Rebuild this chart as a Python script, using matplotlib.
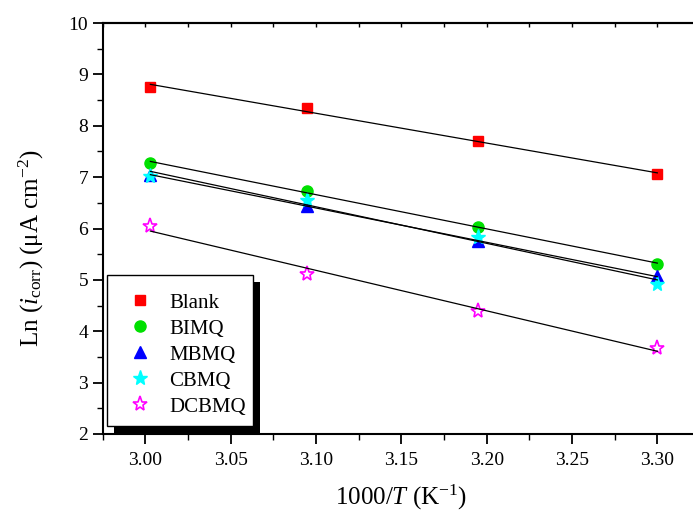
import numpy as np
import matplotlib
matplotlib.use("Agg")
import matplotlib.pyplot as plt
from matplotlib.patches import Rectangle
from matplotlib.ticker import MultipleLocator, FormatStrFormatter

plt.rcParams['font.family'] = ['Liberation Serif', 'DejaVu Serif']
plt.rcParams['mathtext.fontset'] = 'custom'
plt.rcParams['mathtext.rm'] = 'Liberation Serif'
plt.rcParams['mathtext.it'] = 'Liberation Serif:italic'
plt.rcParams['mathtext.bf'] = 'Liberation Serif:bold'

# data
x_inv_T = [3.003, 3.095, 3.195, 3.300]
series_names = ['Blank', 'BIMQ', 'MBMQ', 'CBMQ', 'DCBMQ']
blank = [8.757, 8.342, 7.694, 7.060]
bimq = [7.278, 6.734, 6.022, 5.316]
mbmq = [7.050, 6.437, 5.750, 5.070]
cbmq = [7.020, 6.547, 5.834, 4.915]
dcbmq = [6.040, 5.115, 4.396, 3.671]
series_values = [blank, bimq, mbmq, cbmq, dcbmq]

colors = ['#ff0000', '#00e000', '#0000ff', '#00ffff', '#ff00ff']
markers = ['s', 'o', '^', '*', '*']
msizes = [7, 8, 8, 11, 11]

W, H = 693, 511
fig = plt.figure(figsize=(W / 100, H / 100), dpi=100)
ax_l, ax_r, ax_t, ax_b = 102.6, 700.0, 23.0, 434.0
ax = fig.add_axes([ax_l / W, 1 - ax_b / H, (ax_r - ax_l) / W, (ax_b - ax_t) / H])


def fx(px):
    return (px - ax_l) / (ax_r - ax_l)


def fy(py):
    return (ax_b - py) / (ax_b - ax_t)


x = np.array(x_inv_T)
handles = []
for name, vals, c, m, ms in zip(series_names, series_values, colors, markers, msizes):
    y = np.array(vals)
    k, b = np.polyfit(x, y, 1)
    ax.plot(x[[0, -1]], k * x[[0, -1]] + b, color='black', lw=0.9, zorder=3)
    if name == 'DCBMQ':
        h, = ax.plot(x, y, linestyle='none', marker=m, markersize=ms,
                     markerfacecolor='none', markeredgecolor=c, markeredgewidth=1.2,
                     label=name, zorder=2)
    else:
        h, = ax.plot(x, y, linestyle='none', marker=m, markersize=ms,
                     color=c, markeredgecolor=c, label=name, zorder=2)
    handles.append(h)

ax.set_xlim(2.975, 3.325)
ax.set_ylim(2, 10)
ax.xaxis.set_major_locator(MultipleLocator(0.05))
ax.xaxis.set_minor_locator(MultipleLocator(0.025))
ax.yaxis.set_major_locator(MultipleLocator(1))
ax.yaxis.set_minor_locator(MultipleLocator(0.5))
ax.xaxis.set_major_formatter(FormatStrFormatter('%.2f'))

for s in ax.spines.values():
    s.set_linewidth(1.5)
ax.spines['right'].set_visible(False)
ax.tick_params(which='major', direction='out', length=7, width=1.3, labelsize=14)
ax.tick_params(axis='x', which='major', pad=6)
ax.tick_params(which='minor', direction='out', length=4, width=1.0)
ax.tick_params(top=False, right=False)

sec = ax.secondary_xaxis('top')
sec.xaxis.set_major_locator(MultipleLocator(0.05))
sec.xaxis.set_minor_locator(MultipleLocator(0.025))
sec.tick_params(which='both', direction='in', length=3, width=1.0, labeltop=False)
sec.spines['top'].set_linewidth(1.5)

ax.set_xlabel(r'1000/$\mathit{T}$ (K$^{-1}$)', fontsize=18, labelpad=10)
ax.set_ylabel(r'Ln ($\mathit{i}_{\mathrm{corr}}$) ($\mathrm{\mu}$A cm$^{-2}$)', fontsize=18)
ax.yaxis.set_label_coords(fx(46), fy(248))

# legend frame and shadow
frame_x0, frame_x1, frame_y0, frame_y1 = 107.3, 253.0, 275.0, 425.7
off = 7
shadow = Rectangle((fx(frame_x0 + off), fy(frame_y1 + off)),
                   fx(frame_x1) - fx(frame_x0), fy(frame_y0) - fy(frame_y1),
                   transform=ax.transAxes, facecolor='black', edgecolor='none',
                   zorder=6, clip_on=False)
frame = Rectangle((fx(frame_x0), fy(frame_y1)),
                  fx(frame_x1) - fx(frame_x0), fy(frame_y0) - fy(frame_y1),
                  transform=ax.transAxes, facecolor='white', edgecolor='black',
                  lw=1.0, zorder=7, clip_on=False)
ax.add_patch(shadow)
ax.add_patch(frame)

leg = ax.legend(handles=handles, loc='upper left',
                bbox_to_anchor=(fx(129.6), fy(293)),
                borderaxespad=0, borderpad=0, fontsize=15, frameon=False,
                labelspacing=0.31, handletextpad=0.9, handlelength=1.0)
leg.set_zorder(8)

fig.savefig('out.png', dpi=100)
